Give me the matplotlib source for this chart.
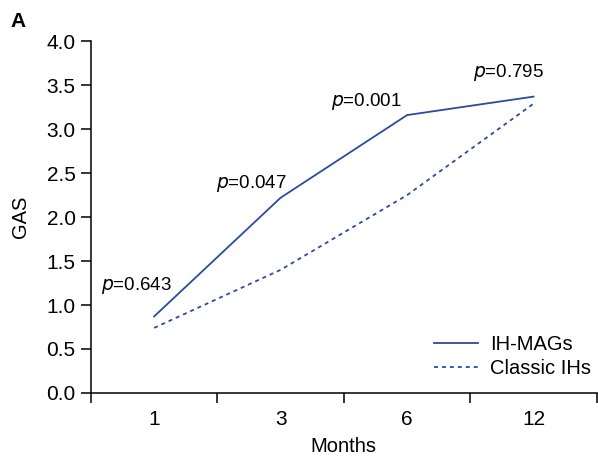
import matplotlib
matplotlib.use("Agg")
from matplotlib import pyplot as plt
from matplotlib.ticker import FixedLocator, NullFormatter

plt.rcParams['font.family'] = ['Liberation Sans', 'DejaVu Sans']

months = ['1', '3', '6', '12']
ih_mags = [0.87, 2.22, 3.16, 3.37]
classic_ihs = [0.74, 1.40, 2.25, 3.29]
p_labels = ['0.643', '0.047', '0.001', '0.795']
p_pos = [(0.86, 1.22), (1.77, 2.38), (2.68, 3.31), (3.80, 3.64)]

line_color = '#2d4b9b'

fig = plt.figure(figsize=(5.98, 4.58), dpi=100)
ax = fig.add_axes([0.152, 0.142, 0.846, 0.768])

x = list(range(1, len(months) + 1))
ax.plot(x, ih_mags, color=line_color, lw=1.3, label='IH-MAGs')
ax.plot(x, classic_ihs, color=line_color, lw=1.3, linestyle=(0, (2.2, 2.2)), label='Classic IHs')

for (px, py), p in zip(p_pos, p_labels):
    ax.text(px, py, f'$\\it{{p}}$=' + p, ha='center', va='center', fontsize=13.5)

ax.set_xlim(0.5, len(months) + 0.5)
ax.set_ylim(0, 4.0)
ax.set_yticks([0, 0.5, 1.0, 1.5, 2.0, 2.5, 3.0, 3.5, 4.0])
ax.set_yticklabels([f'{v:.1f}' for v in ax.get_yticks()])

# boundaries get the ticks, labels sit in the middle
ax.xaxis.set_major_locator(FixedLocator([i + 0.5 for i in range(len(months) + 1)]))
ax.xaxis.set_major_formatter(NullFormatter())
ax.xaxis.set_minor_locator(FixedLocator(x))
ax.set_xticklabels(months, minor=True)
ax.tick_params(axis='x', which='minor', length=0, pad=12, labelsize=15)
ax.tick_params(axis='x', which='major', length=7, width=1.1)
ax.tick_params(axis='y', length=7, width=1.1, labelsize=15, pad=4)

for s in ['top', 'right']:
    ax.spines[s].set_visible(False)
for s in ['left', 'bottom']:
    ax.spines[s].set_linewidth(1.1)

ax.set_xlabel('Months', fontsize=14.5, labelpad=6)
ax.set_ylabel('GAS', fontsize=14.5, labelpad=12)

ax.legend(loc='lower right', frameon=False, fontsize=14.5, handlelength=2.2,
          handletextpad=0.6, labelspacing=0.25, bbox_to_anchor=(1.025, -0.01))

fig.text(0.018, 0.953, 'A', fontsize=15, fontweight='bold', va='center')

fig.savefig('out.png', dpi=100)
